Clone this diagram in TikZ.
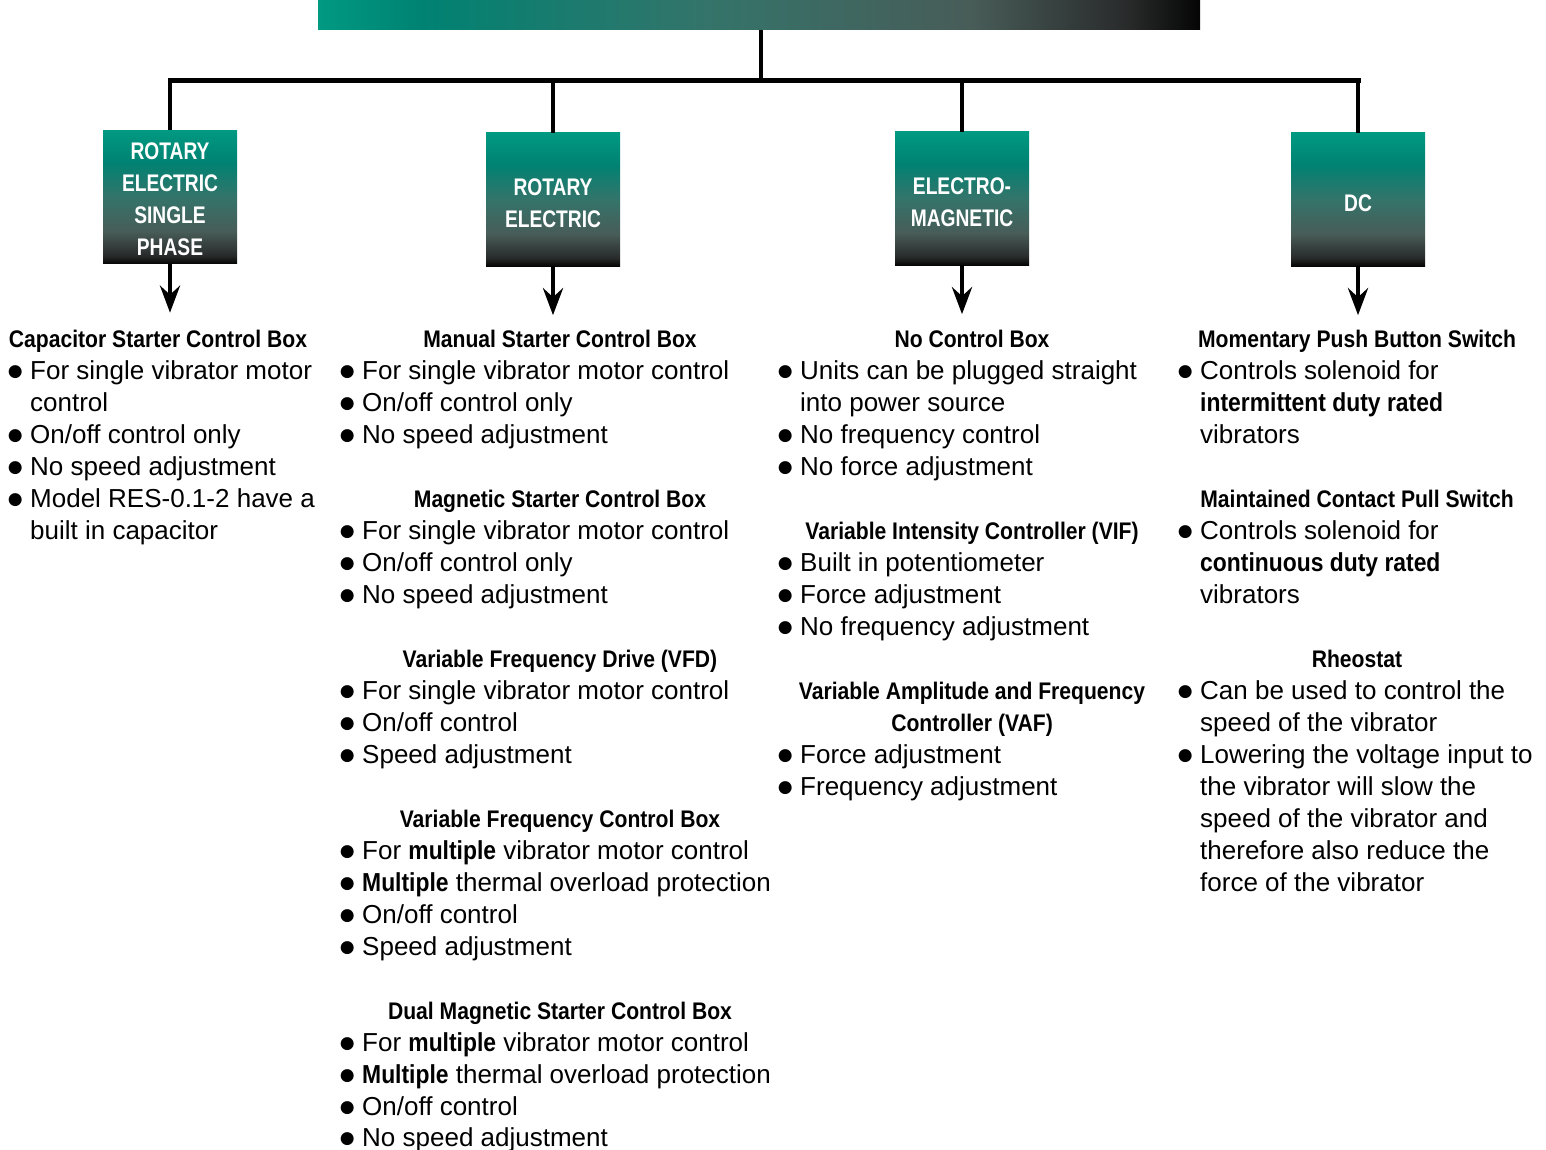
\documentclass[tikz,border=0pt]{standalone}
\usepackage{fontspec}
\setmainfont{Liberation Sans}
\newfontfamily\headfont[FakeStretch=0.88]{Liberation Sans Bold}
\newfontfamily\boxfont[FakeStretch=0.8]{Liberation Sans Bold}
\newfontfamily\dotfont{DejaVu Sans}
\usetikzlibrary{arrows.meta}

\definecolor{tealA}{RGB}{0,153,130}
\definecolor{tealB}{RGB}{0,130,114}
\definecolor{tealC}{RGB}{52,116,106}
\definecolor{slateD}{RGB}{72,92,88}
\definecolor{slateE}{RGB}{40,42,42}
\definecolor{inkF}{RGB}{5,5,5}
\pgfdeclareverticalshading{boxshade}{100bp}{color(0bp)=(inkF); color(25bp)=(inkF); color(28bp)=(slateE); color(37bp)=(slateD); color(50bp)=(tealC); color(63bp)=(tealB); color(75bp)=(tealA); color(100bp)=(tealA)}
\pgfdeclarehorizontalshading{barshade}{100bp}{color(0bp)=(tealA); color(25bp)=(tealA); color(31bp)=(tealB); color(47bp)=(tealC); color(62bp)=(slateD); color(71bp)=(slateE); color(75bp)=(inkF); color(100bp)=(inkF)}

\newcommand{\bul}{\llap{\raisebox{2.2pt}{\dotfont\fontsize{17}{32}\selectfont ●}\hspace{7.5pt}}}
\newcommand{\hb}[1]{{\headfont #1}}

\tikzset{
  cat/.style={rectangle, minimum width=134pt, minimum height=133pt, inner sep=0pt, shading=boxshade},
  catlbl/.style={text=white, align=center, inner sep=0pt, font=\boxfont\fontsize{24}{32}\selectfont},
  head/.style={anchor=base, inner sep=0pt, font=\headfont\fontsize{24}{32}\selectfont},
  txt/.style={anchor=base west, inner sep=0pt, font=\fontsize{26}{32}\selectfont},
  link/.style={line width=4.5pt},
  arr/.style={line width=4.5pt, -{Stealth[length=27pt,width=20pt,inset=9pt]}}
}

\begin{document}
\begin{tikzpicture}[x=1pt,y=-1pt]
  \useasboundingbox (0,0) rectangle (1546,1150);

  % barra superior y categorias
  \node[rectangle, minimum width=882pt, minimum height=30pt, inner sep=0pt, shading=barshade] (bar) at (759,15) {};
  \node[cat] (b1) at (170,197) {};
  \node[cat] (b2) at (553,199.5) {};
  \node[cat] (b3) at (962,198.5) {};
  \node[cat] (b4) at (1358,199.5) {};
  \node[catlbl] (t1) at ([yshift=-2pt]b1.center) {ROTARY\\ELECTRIC\\SINGLE\\PHASE};
  \node[catlbl] (t2) at ([yshift=-4pt]b2.center) {ROTARY\\ELECTRIC};
  \node[catlbl] (t3) at ([yshift=-4pt]b3.center) {ELECTRO-\\MAGNETIC};
  \node[catlbl] (t4) at ([yshift=-4pt]b4.center) {DC};

  % arbol de conexiones
  \draw[link] (bar.south) ++(2,0) -- ++(0,50) coordinate (jn);
  \draw[line width=5pt, line cap=rect] (b1.north |- jn) -- (b4.north |- jn);
  \foreach \b in {b1,b2,b3,b4} {
    \draw[link] (\b.north) -- (\b.north |- jn);
    \draw[arr] (\b.south) -- ++(0,49);
  }

  % columna 1
  \node[head] (h1a) at (158,347) {Capacitor Starter Control Box};
  \foreach \n/\y/\t in {a/379/{\bul For single vibrator motor}, b/411/{control},
      c/443/{\bul On/off control only}, d/475/{\bul No speed adjustment},
      e/507/{\bul Model RES-0.1-2 have a}, f/539/{built in capacitor}}
    \node[txt] (c1\n) at (30,\y) {\t};

  % columna 2
  \node[head] (h2a) at (560,347) {Manual Starter Control Box};
  \node[head] (h2b) at (560,507) {Magnetic Starter Control Box};
  \node[head] (h2c) at (560,667) {Variable Frequency Drive (VFD)};
  \node[head] (h2d) at (560,827) {Variable Frequency Control Box};
  \node[head] (h2e) at (560,1019) {Dual Magnetic Starter Control Box};
  \foreach \n/\y/\t in {a/379/{\bul For single vibrator motor control},
      b/411/{\bul On/off control only}, c/443/{\bul No speed adjustment},
      d/539/{\bul For single vibrator motor control},
      e/571/{\bul On/off control only}, f/603/{\bul No speed adjustment},
      g/699/{\bul For single vibrator motor control},
      h/731/{\bul On/off control}, i/763/{\bul Speed adjustment},
      j/859/{\bul For \hb{multiple} vibrator motor control},
      k/891/{\bul \hb{Multiple} thermal overload protection},
      l/923/{\bul On/off control}, m/955/{\bul Speed adjustment},
      n/1051/{\bul For \hb{multiple} vibrator motor control},
      o/1083/{\bul \hb{Multiple} thermal overload protection},
      p/1115/{\bul On/off control}, q/1146/{\bul No speed adjustment}}
    \node[txt] (c2\n) at (362,\y) {\t};

  % columna 3
  \node[head] (h3a) at (972,347) {No Control Box};
  \node[head] (h3b) at (972,539) {Variable Intensity Controller (VIF)};
  \node[head] (h3c) at (972,699) {Variable Amplitude and Frequency};
  \node[head] (h3d) at (972,731) {Controller (VAF)};
  \foreach \n/\y/\t in {a/379/{\bul Units can be plugged straight},
      b/411/{into power source}, c/443/{\bul No frequency control},
      d/475/{\bul No force adjustment}, e/571/{\bul Built in potentiometer},
      f/603/{\bul Force adjustment}, g/635/{\bul No frequency adjustment},
      h/763/{\bul Force adjustment}, i/795/{\bul Frequency adjustment}}
    \node[txt] (c3\n) at (800,\y) {\t};

  % columna 4
  \node[head] (h4a) at (1357,347) {Momentary Push Button Switch};
  \node[head] (h4b) at (1357,507) {Maintained Contact Pull Switch};
  \node[head] (h4c) at (1357,667) {Rheostat};
  \foreach \n/\y/\t in {a/379/{\bul Controls solenoid for},
      b/411/{\hb{intermittent duty rated}}, c/443/{vibrators},
      d/539/{\bul Controls solenoid for}, e/571/{\hb{continuous duty rated}},
      f/603/{vibrators}, g/699/{\bul Can be used to control the},
      h/731/{speed of the vibrator}, i/763/{\bul Lowering the voltage input to},
      j/795/{the vibrator will slow the}, k/827/{speed of the vibrator and},
      l/859/{therefore also reduce the}, m/891/{force of the vibrator}}
    \node[txt] (c4\n) at (1200,\y) {\t};
\end{tikzpicture}
\end{document}
